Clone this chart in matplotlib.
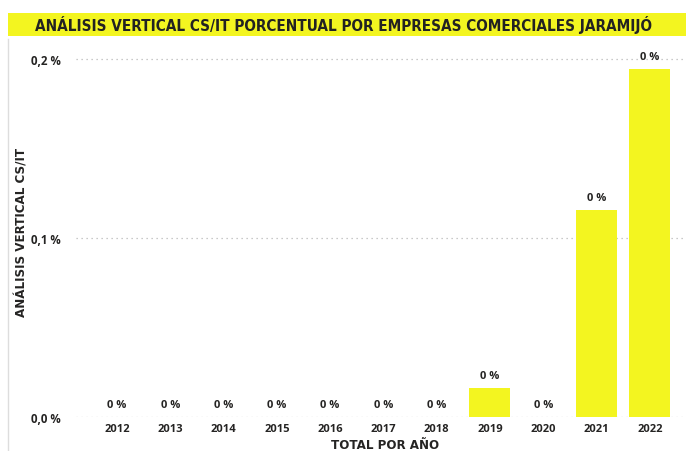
import matplotlib
matplotlib.use("Agg")
import matplotlib.pyplot as plt
from matplotlib.patches import Rectangle
from matplotlib.lines import Line2D

years = ["2012", "2013", "2014", "2015", "2016", "2017", "2018", "2019", "2020", "2021", "2022"]
values = [0.0, 0.0, 0.0, 0.0, 0.0, 0.0, 0.0, 0.0162, 0.0, 0.1156, 0.1944]
bar_labels = ["0 %"] * len(years)
yticks = [0.0, 0.1, 0.2]
ytick_labels = ["0,0 %", "0,1 %", "0,2 %"]
title = "ANÁLISIS VERTICAL CS/IT PORCENTUAL POR EMPRESAS COMERCIALES JARAMIJÓ"
xlabel = "TOTAL POR AÑO"
ylabel = "ANÁLISIS VERTICAL CS/IT"

W, H = 686, 452
YEL = "#F3F520"
TXT = "#252423"
COND = dict(family="DejaVu Sans", fontstretch="condensed", fontweight="bold")
SMALL = dict(family=["Open Sans", "DejaVu Sans"], fontweight="bold")
fig = plt.figure(figsize=(W / 100, H / 100), dpi=100)

# title band
fig.patches.append(Rectangle((8 / W, 1 - 37 / H), 1 - 8 / W, 23 / H,
                             transform=fig.transFigure, facecolor=YEL, edgecolor="none"))
fig.text((8 + 686) / 2 / W - 0.005, 1 - 25.5 / H, title, ha="center", va="center",
         fontsize=11, color="#222222", **COND)
# left border
fig.add_artist(Line2D([8 / W, 8 / W], [0, 1 - 40 / H], transform=fig.transFigure,
                      color="#dddddd", lw=1))

ax_left, ax_right = 76, 686
ax_bottom, ax_top = 418, 48
ax = fig.add_axes([ax_left / W, 1 - ax_bottom / H, (ax_right - ax_left) / W, (ax_bottom - ax_top) / H])
ymax = (ax_bottom - ax_top) / 1790
x = list(range(len(years)))
bars = ax.bar(x, values, width=0.77, color=YEL, zorder=2)
ax.set_ylim(0, ymax)
ax.set_xlim(-0.77, len(years) - 1 + 0.68)

for xi, v, lab in zip(x, values, bar_labels):
    ax.annotate(lab, (xi, v), xytext=(0, 5), textcoords="offset points",
                ha="center", va="bottom", fontsize=8, color=TXT, **SMALL)

ax.set_yticks(yticks)
ax.set_yticklabels(ytick_labels, fontsize=8.3, color=TXT, **SMALL)
ax.set_xticks(x)
ax.set_xticklabels(years, fontsize=8, color=TXT, **SMALL)
ax.tick_params(length=0, pad=4)
ax.tick_params(axis="y", pad=11)
ax.grid(axis="y", linestyle=(0, (1, 3)), color="#b8b8b8", lw=0.9, zorder=0)
for s in ax.spines.values():
    s.set_visible(False)

fig.text(385 / W, 1 - 446 / H, xlabel, ha="center", va="center", fontsize=9.5,
         color=TXT, **COND)
fig.text(22 / W, 1 - 232 / H, ylabel, ha="center", va="center", rotation=90,
         fontsize=9.5, color=TXT, **COND)

fig.savefig("out.png", dpi=100, facecolor="white")
